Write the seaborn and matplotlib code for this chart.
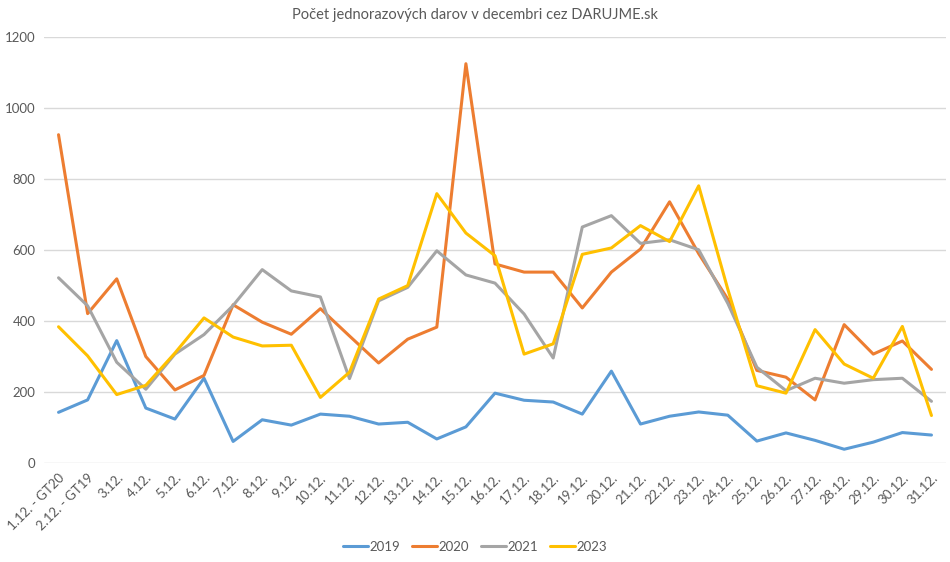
import matplotlib
matplotlib.use("Agg")
import matplotlib.pyplot as plt
import seaborn as sns
import pandas as pd

# x categories
days = ["1.12. - GT20", "2.12. - GT19"] + [f"{d}.12." for d in range(3, 32)]

# values
v2019 = [143, 178, 345, 155, 124, 239, 61, 122, 107, 138, 132, 110, 115, 68, 102,
         197, 177, 172, 138, 259, 110, 132, 144, 135, 62, 85, 64, 39, 59, 86, 79]
v2020 = [925, 421, 519, 300, 206, 247, 446, 397, 363, 435, 358, 282, 349, 383, 1125,
         561, 538, 538, 437, 538, 603, 736, 590, 462, 261, 242, 178, 390, 307, 344, 264]
v2021 = [522, 443, 284, 208, 307, 362, 444, 545, 485, 468, 238, 457, 495, 598, 530,
         507, 420, 296, 665, 697, 619, 629, 601, 450, 270, 204, 239, 225, 235, 239, 174]
v2023 = [384, 302, 193, 219, 310, 409, 355, 330, 332, 185, 256, 462, 500, 759, 648,
         584, 307, 336, 588, 606, 669, 624, 781, 490, 218, 197, 376, 279, 239, 385, 134]

years = ["2019", "2020", "2021", "2023"]
colors = ["#5B9BD5", "#ED7D31", "#A5A5A5", "#FFC000"]

df = pd.DataFrame({
    "den": list(range(len(days))) * 4,
    "rok": [y for y in years for _ in days],
    "pocet": v2019 + v2020 + v2021 + v2023,
})

sns.set_style("white")
plt.rcParams["font.family"] = ["Lato", "DejaVu Sans"]

fig = plt.figure(figsize=(9.5, 5.62), dpi=100)
ax = fig.add_axes([0.0463, 0.176, 0.9495, 0.758])

sns.lineplot(data=df, x="den", y="pocet", hue="rok", palette=colors,
             linewidth=2.2, ax=ax, legend=False)

ax.set_xlim(-0.5, len(days) - 0.5)
ax.set_ylim(0, 1200)
ax.set_yticks(range(0, 1201, 200))
ax.set_xticks(range(len(days)))
ax.set_xticklabels(days, rotation=45, ha="right", rotation_mode="anchor")
ax.tick_params(axis="both", labelsize=9.5, colors="#595959", length=0, pad=6)
ax.grid(axis="y", color="#D9D9D9", linewidth=1)
ax.set_axisbelow(True)
for s in ax.spines.values():
    s.set_visible(False)
ax.set_xlabel("")
ax.set_ylabel("")

fig.suptitle("Počet jednorazových darov v decembri cez DARUJME.sk",
             y=0.985, fontsize=10.5, color="#595959")

handles = [plt.Line2D([], [], color=c, lw=2.2) for c in colors]
fig.legend(handles, years, loc="center", bbox_to_anchor=(0.5, 0.027), ncol=4,
           frameon=False, fontsize=9.5, handlelength=1.9, handletextpad=0.1,
           columnspacing=0.9, labelcolor="#595959")

fig.savefig("out.png", dpi=100)
